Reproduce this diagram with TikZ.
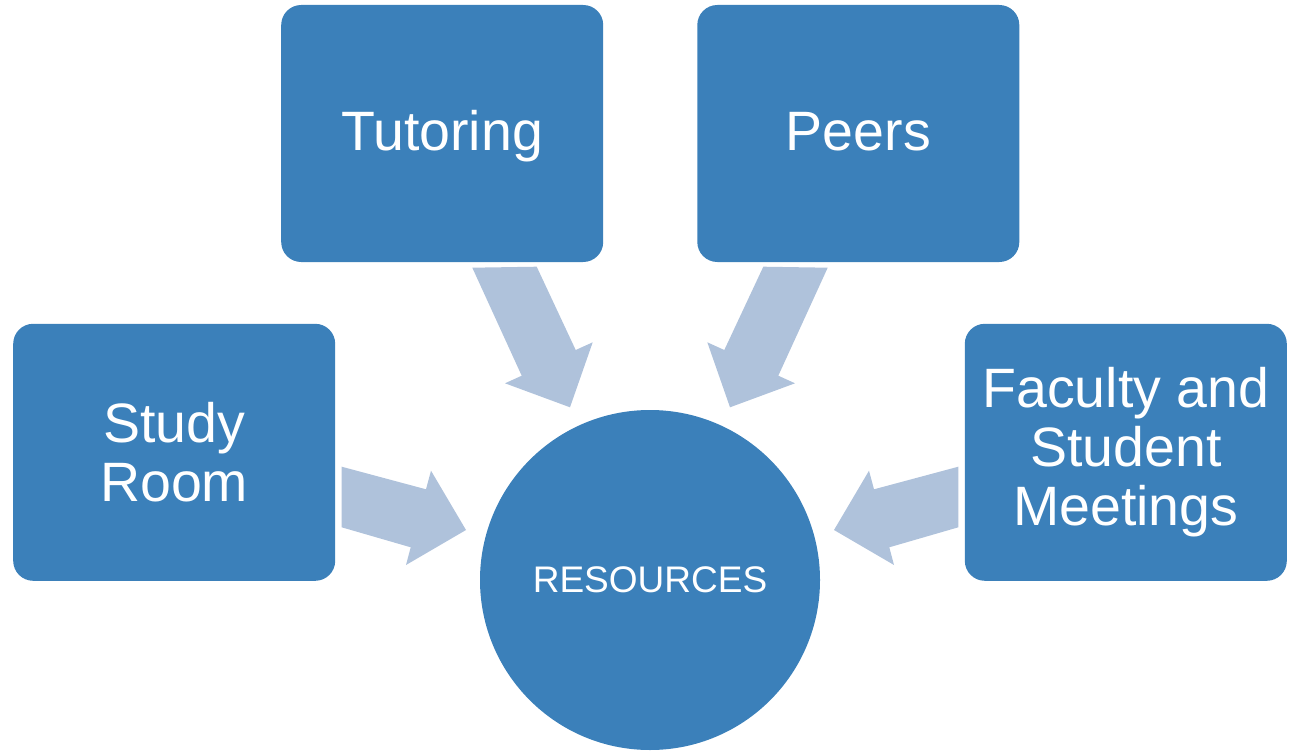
\documentclass[tikz,border=0pt]{standalone}
\usepackage{fontspec}
\setmainfont{Liberation Sans}
\definecolor{boxblue}{HTML}{3B80BA}
\definecolor{arrblue}{HTML}{AFC2DB}
\begin{document}
\begin{tikzpicture}[x=1pt,y=-1pt,
  box/.style={fill=boxblue, rounded corners=20pt, minimum width=322pt, minimum height=257pt,
    inner sep=0pt, text=white, font=\fontsize{55.5}{59}\selectfont, align=center},
  oneline/.style={text height=40pt, text depth=5.6pt},
  hub/.style={circle, fill=boxblue, minimum size=340pt, inner sep=0pt, text=white,
    font=\fontsize{37}{40}\selectfont},
  blockarrow/.style={fill=arrblue}]
\useasboundingbox (0,0) rectangle (1297,751);

\node[box, oneline] (tut) at (442.2,133.5) {Tutoring};
\node[box, oneline] (peers) at (858.3,133.5) {Peers};
\node[box] (study) at (174.2,452.3) {Study\\Room};
\node[box] (fac) at (1125.8,452.3) {Faculty and\\Student\\Meetings};
\node[hub] (res) at (650,580) {RESOURCES};

% block arrows
\fill[blockarrow] (472.3,267.7) -- (536.7,266.7) -- (575.7,350) -- (592.7,342.3)
  -- (570,407.3) -- (505,383.3) -- (521.7,375.7) -- cycle;
\fill[blockarrow] (827.7,267.7) -- (763.3,266.7) -- (724.3,350) -- (707.3,342.3)
  -- (730,407.3) -- (795,383.3) -- (778.3,375.7) -- cycle;
\fill[blockarrow] (341.7,466.7) -- (426,489.3) -- (431,470.7) -- (466,530)
  -- (406,565) -- (410.7,547.3) -- (341.7,527.3) -- cycle;
\fill[blockarrow] (958.3,466.7) -- (874,489.3) -- (869,470.7) -- (834,530)
  -- (894,565) -- (889.3,547.3) -- (958.3,527.3) -- cycle;
\end{tikzpicture}
\end{document}
